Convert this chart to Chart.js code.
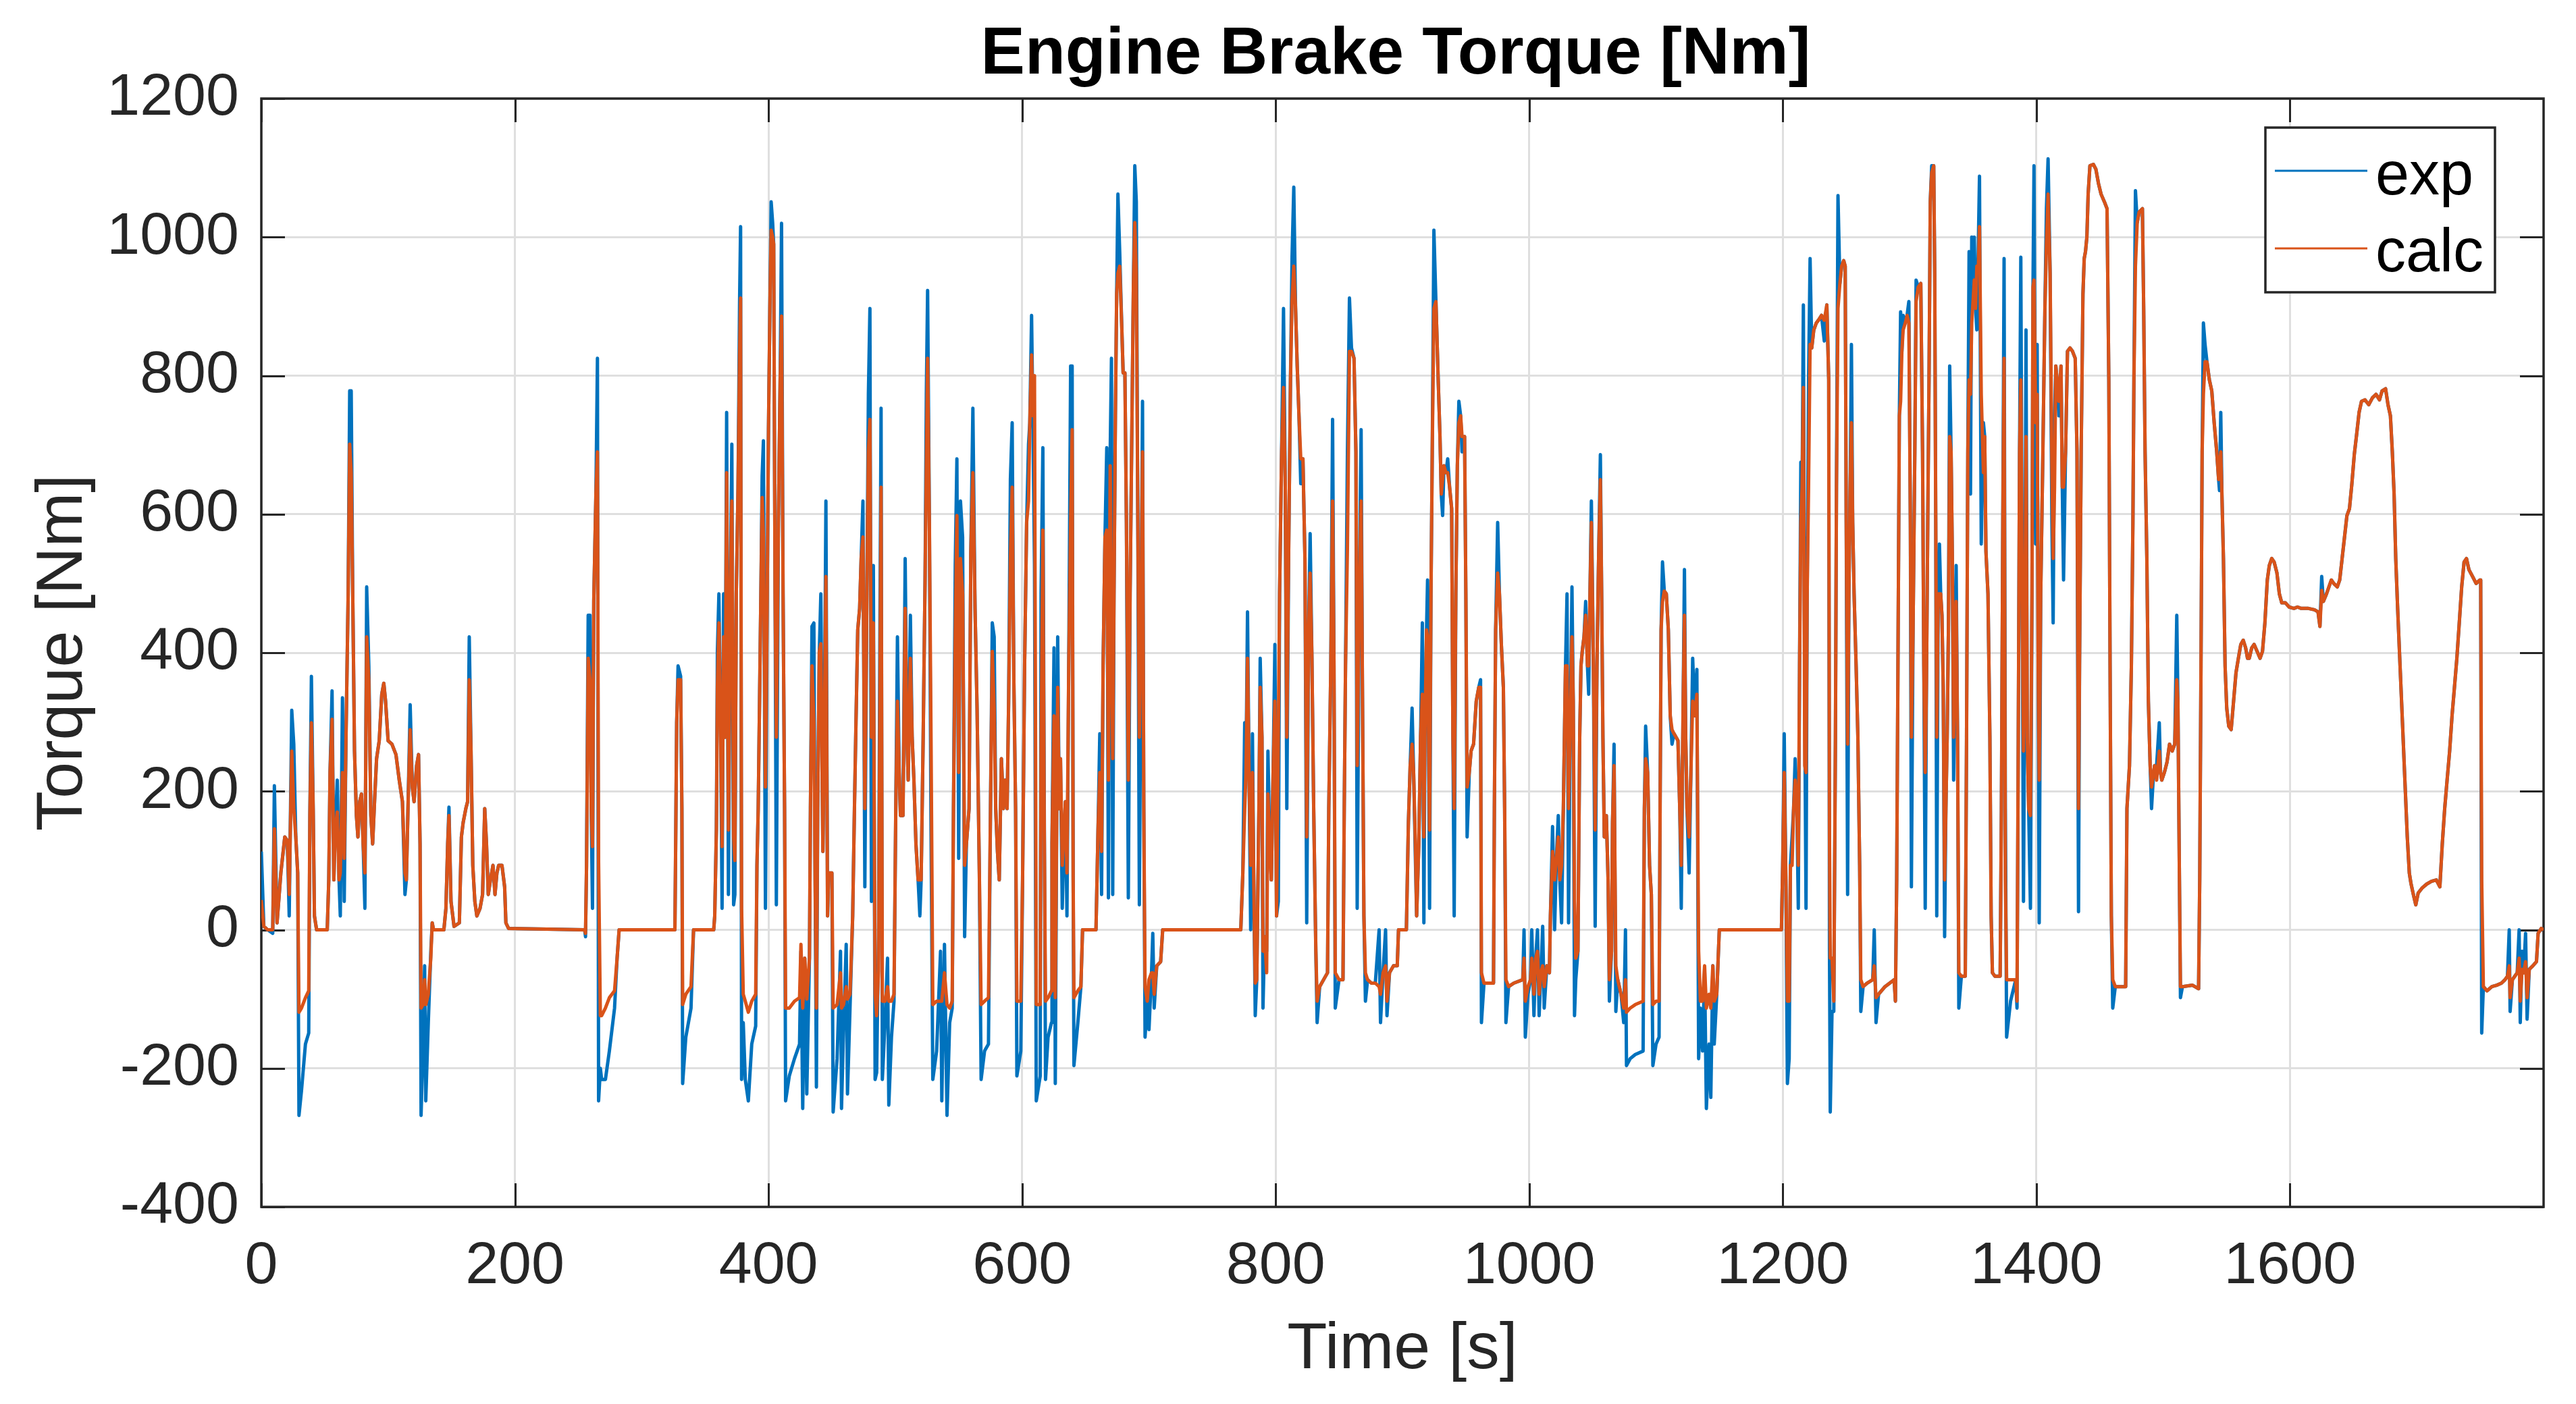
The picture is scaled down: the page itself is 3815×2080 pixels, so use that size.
<!DOCTYPE html>
<html>
<head>
<meta charset="utf-8">
<title>Engine Brake Torque</title>
<script src="https://cdn.jsdelivr.net/npm/chart.js@4.4.0/dist/chart.umd.min.js"></script>
<style>
  html, body { margin: 0; padding: 0; background: #ffffff; }
  canvas { display: block; }
</style>
</head>
<body>
<canvas id="torqueChart" width="3815" height="2080"></canvas>
<script>
// time base [s] shared by both series
const timeS = [
  0, 2, 5, 9, 10.3, 12.4, 15.4, 18.5, 20.5, 22,
  24, 25.6, 27.2, 28.7, 29.7, 31.7, 34.8, 37.4, 38.3, 39.5,
  40.9, 41.9, 43.6, 52, 53.2, 54.2, 55.8, 57.2, 58.3, 59.9,
  61.3, 62.3, 64, 65.4, 66.8, 68.5, 69.7, 70.9, 72.1, 73.5,
  75, 76.2, 77.6, 79, 80.3, 81.7, 83.1, 84.8, 86.4, 87.8,
  89.3, 90.9, 93, 95, 96.6, 98, 100, 103, 106.2, 108.8,
  111.3, 113.3, 114.4, 115.8, 117.4, 119.1, 120.5, 122.5, 124, 125.2,
  126, 127.6, 128.8, 129.7, 131.7, 133.7, 134.8, 135.8, 144, 145.6,
  147, 148, 149.6, 152, 156.2, 157.8, 159.2, 161.3, 162.7, 164,
  165.4, 166.8, 168.4, 170, 172.5, 174.5, 176.2, 177.6, 179, 180.7,
  182.7, 184.3, 185.8, 187.2, 189.8, 191.9, 192.9, 195, 255, 255.7,
  256.5, 257.8, 259.2, 260.2, 261.2, 262.2, 263.9, 265.1, 266, 267.4,
  268.4, 271.4, 274.5, 278.6, 280.6, 282.2, 326.2, 326.6, 327.6, 328.7,
  330.7, 331.7, 332.3, 334.8, 338.9, 340.9, 356.8, 357.6, 358.9, 359.7,
  360.9, 362.3, 363.4, 364.6, 365.8, 367, 368.4, 369.9, 371.1, 372.5,
  373.5, 374.6, 376, 377.2, 378, 378.8, 380.1, 381.7, 384.1, 386.8,
  389.9, 390.9, 391.9, 394, 395, 396, 397.6, 399, 400, 401.1,
  402.1, 403.3, 404.1, 405.2, 406.2, 407.8, 409.2, 410.3, 411.5, 412.7,
  413.5, 416.4, 420.5, 424.5, 425.6, 427, 428.6, 430.2, 432.3, 433.1,
  434.3, 435.8, 436.8, 437.8, 438.8, 440.1, 441.3, 442.9, 444.1, 445.3,
  446.6, 447.4, 450, 451, 454.1, 456.8, 457.6, 459.2, 461.3, 462.3,
  464.3, 466.4, 467.8, 469, 470.4, 471.9, 473.1, 474.5, 476, 477.6,
  478.8, 480, 481.2, 482.7, 484.1, 485.3, 486.8, 487.8, 488.8, 489.8,
  491.9, 493.9, 494.9, 497, 499, 500.4, 501.7, 503.1, 504.1, 506.1,
  507.8, 509.2, 510.2, 511.9, 513.3, 514.7, 516.3, 518, 519.4, 520.4,
  522, 523.5, 524.5, 525.5, 526.9, 528.2, 529.6, 532.6, 535.7, 536.7,
  538.8, 540.8, 542.9, 544.9, 545.9, 547.3, 548.6, 550, 551.4, 553.1,
  554.7, 556.1, 558.2, 559.6, 561.2, 562.9, 564.5, 566.3, 567.7, 570.4,
  573.5, 575.1, 576.5, 578, 579.2, 580.6, 582, 583.7, 585.3, 586.7,
  588.2, 589.4, 590.8, 592.2, 593.5, 594.9, 595.9, 599, 600.4, 602,
  603.6, 605.1, 606.1, 607.5, 608.5, 609.8, 611.2, 614.3, 615, 616.4,
  617.5, 618.5, 620.5, 623.2, 623.6, 625.2, 626.2, 628.1, 629.3, 630.3,
  631.7, 633.4, 634.2, 635.4, 636.8, 638.3, 639.5, 640.3, 640.9, 644,
  646.4, 647.7, 658.3, 659.9, 661.3, 662.7, 663.9, 665.4, 666.8, 668.1,
  669.5, 670.5, 671.5, 672.5, 673.6, 674.6, 675.6, 677, 678.7, 679.7,
  681.1, 682.3, 683.8, 685.2, 686.4, 687.8, 688.9, 690.1, 691.3, 692.5,
  694, 695, 696, 697, 698.7, 700.1, 702.1, 703.1, 704.2, 706.2,
  709.3, 710.9, 772.5, 774.1, 775.6, 776.6, 777.8, 779, 780.3, 781.7,
  782.7, 783.9, 785.1, 786.8, 787.8, 789.2, 790, 791.3, 792.9, 793.9,
  795.3, 796.6, 798, 799.4, 800.7, 802.1, 803.1, 804.7, 806.2, 807.6,
  808.8, 810.2, 811.7, 812.9, 814.3, 815.7, 817, 818.4, 819.8, 821.5,
  823.1, 824.5, 826, 827.2, 828.6, 830, 831.7, 832.7, 834.7, 837.8,
  840.9, 841.9, 843.5, 844.9, 846, 847, 850, 853.1, 854.1, 855.1,
  856.6, 858.2, 859.8, 861.8, 863.3, 864.3, 865.9, 867.4, 868.4, 869.6,
  870.8, 872.5, 875.5, 878.6, 881.6, 882.7, 884.7, 886.7, 887.8, 889.8,
  892.9, 895.9, 896.9, 903.1, 904.7, 906.1, 907.6, 908.8, 910.2, 911.2,
  912.9, 914.3, 915.7, 916.9, 917.7, 919, 919.8, 921.4, 922.5, 923.5,
  924.8, 926.4, 928.2, 929.6, 930.6, 931.7, 932.7, 934.3, 935.7, 937.2,
  938.8, 939.8, 940.8, 942.1, 943.3, 944.5, 945.9, 947, 949, 950,
  951, 952.7, 954.1, 956.1, 958.2, 960.2, 961.6, 962.3, 964.3, 971.8,
  972.5, 973.5, 975.1, 976.5, 978, 979.6, 980.6, 981.6, 983.7, 987.8,
  994.9, 995.9, 996.9, 999, 1001, 1002, 1003.7, 1005.1, 1006.5, 1007.8,
  1009.2, 1010.6, 1011.8, 1013.9, 1015.9, 1016.7, 1018.4, 1020, 1021.4, 1022.9,
  1024.1, 1025.5, 1026.9, 1028.6, 1029.8, 1031, 1032.2, 1033.7, 1034.7, 1035.7,
  1036.7, 1038.4, 1039.8, 1040.8, 1041.8, 1043.2, 1044.5, 1045.9, 1046.9, 1047.9,
  1049, 1050.6, 1052, 1053.4, 1054.7, 1056.1, 1057.1, 1058.1, 1059.2, 1060.8,
  1062.2, 1063.2, 1064.9, 1065.7, 1066.9, 1068.3, 1069.8, 1072.4, 1074.5, 1075.9,
  1076.7, 1079.6, 1083.6, 1089.8, 1090.8, 1091.8, 1093.4, 1094.9, 1096.3, 1097.5,
  1100, 1102.4, 1103.2, 1104, 1105.1, 1106.5, 1108.1, 1109.7, 1111.2, 1112.6,
  1114.2, 1117.3, 1118.7, 1119.9, 1121.4, 1122.4, 1123.4, 1124.4, 1126.1, 1127.5,
  1128.9, 1130.6, 1132.2, 1133.6, 1135, 1136.7, 1138.3, 1139.7, 1141.8, 1143.2,
  1144.8, 1145.9, 1147.9, 1149.9, 1198.9, 1199.9, 1201.1, 1202.4, 1203.6, 1205,
  1206, 1207.3, 1208.5, 1209.7, 1211.1, 1212.2, 1213.2, 1214.2, 1215.2, 1216.2,
  1217.3, 1218.3, 1219.2, 1220.3, 1221.5, 1222.8, 1224.4, 1226.4, 1228.5, 1230.5,
  1232.7, 1234.7, 1236.2, 1236.8, 1237.4, 1238.8, 1240.2, 1241.5, 1242.3, 1243.5,
  1245, 1246.4, 1248, 1249.2, 1250, 1251.1, 1252.1, 1253.1, 1254.1, 1255.1,
  1256.2, 1257.8, 1259.2, 1260.6, 1261.5, 1263.3, 1266.4, 1270.9, 1272.1, 1273.5,
  1275.5, 1280.6, 1287.8, 1288.8, 1289.8, 1290.8, 1291.9, 1292.9, 1293.9, 1294.9,
  1296.6, 1298, 1299.4, 1300.6, 1301.4, 1302.7, 1304.1, 1305.1, 1306.8, 1308.8,
  1310.2, 1311.2, 1312.3, 1313.3, 1314.3, 1315.3, 1316.3, 1317.4, 1319, 1319.8,
  1320.6, 1321.4, 1322.5, 1323.5, 1324.5, 1325.5, 1326.5, 1327.6, 1328.6, 1329.6,
  1330.6, 1331.6, 1332.7, 1333.7, 1334.7, 1335.7, 1336.7, 1337.8, 1338.8, 1340.8,
  1343.9, 1344.9, 1345.9, 1346.9, 1348, 1349, 1350, 1351, 1352, 1353,
  1354.1, 1355.1, 1356.5, 1358.2, 1359.2, 1360.2, 1361.8, 1363.3, 1364.3, 1365.3,
  1367.3, 1371.4, 1372.4, 1373.5, 1374.5, 1375.5, 1376.5, 1379.6, 1383.7, 1384.7,
  1385.7, 1386.7, 1387.7, 1388.8, 1389.8, 1390.8, 1391.8, 1392.8, 1393.9, 1395.3,
  1396.5, 1397.3, 1398.1, 1399.4, 1400.6, 1401.4, 1402.2, 1403.4, 1405.1, 1406.7,
  1407.9, 1409.2, 1410.8, 1412.2, 1413.2, 1414.3, 1415.3, 1416.3, 1417.7, 1419.4,
  1420.4, 1421.4, 1423, 1424.5, 1426.5, 1428.5, 1430.6, 1432, 1433.2, 1434,
  1435.3, 1436.7, 1437.7, 1438.7, 1439.8, 1440.8, 1442.2, 1444.9, 1446.9, 1449,
  1451, 1453.6, 1455.7, 1457.1, 1458.1, 1459.1, 1460.2, 1462.2, 1470.4, 1471.4,
  1473.4, 1474.9, 1476.1, 1476.9, 1478.1, 1479.5, 1481, 1483.6, 1484.6, 1485.7,
  1487.1, 1488.3, 1489.7, 1490.8, 1492.4, 1493.2, 1494.8, 1496.9, 1497.9, 1498.9,
  1500.9, 1503, 1505, 1507.1, 1509.1, 1510.7, 1511.6, 1512.8, 1513.6, 1515.2,
  1523.1, 1527.9, 1528.8, 1529.8, 1530.7, 1531.7, 1533, 1534.5, 1536.4, 1538.3,
  1540.2, 1542.2, 1543.7, 1544.4, 1545.4, 1546.3, 1547.5, 1548.8, 1550.1, 1551.7,
  1553.6, 1555.5, 1557.4, 1559.3, 1561.2, 1563.1, 1565, 1566.5, 1567.9, 1569.8,
  1571.7, 1573.6, 1576.4, 1578.3, 1580.2, 1582.1, 1583.7, 1585.6, 1587.5, 1589.7,
  1591.6, 1593.5, 1596.4, 1599.3, 1603.1, 1605.9, 1608.8, 1614.5, 1619.3, 1622.1,
  1623.6, 1625, 1626.3, 1628.8, 1630.7, 1632.6, 1634.5, 1637.3, 1639.2, 1641.1,
  1643, 1644.9, 1646.9, 1648.8, 1650.7, 1652.6, 1654.5, 1656.4, 1659.2, 1662.1,
  1665, 1667.8, 1670.6, 1672.6, 1675.4, 1677.3, 1679.2, 1680.7, 1682.1, 1683.4,
  1684.9, 1686.8, 1688.7, 1690.6, 1692.5, 1694.1, 1695.4, 1697.3, 1699.2, 1701.1,
  1704, 1707.8, 1711.6, 1715.4, 1718.2, 1720.1, 1722, 1723.9, 1725.9, 1727.8,
  1729.7, 1731.6, 1733.5, 1735.4, 1737.3, 1739.2, 1741.1, 1744, 1746.8, 1749.7,
  1750.4, 1751.2, 1752.5, 1755.4, 1759.2, 1763, 1766.8, 1769.6, 1771.5, 1772.9,
  1773.6, 1775.4, 1777.3, 1779.2, 1780.7, 1781.6, 1783, 1784.3, 1785.8, 1787,
  1788.7, 1791.5, 1794.4, 1795.7, 1798.2, 1800
];

// measured torque [Nm]
const expTorque = [
  113, 5, 0, -5, 208, 10, 82, 134, 129, 20,
  317, 268, 134, 82, -268, -232, -165, -149, 165, 366,
  175, 20, 0, 0, 72, 227, 345, 72, 144, 216,
  72, 20, 335, 41, 278, 485, 778, 778, 485, 258,
  165, 134, 185, 196, 124, 31, 495, 381, 165, 124,
  185, 247, 273, 340, 356, 330, 273, 268, 253, 216,
  185, 51, 72, 185, 325, 206, 185, 237, 253, 124,
  -268, -165, -52, -247, -134, -31, 10, 0, 0, 31,
  124, 177, 41, 5, 10, 134, 155, 175, 185, 423,
  258, 93, 41, 20, 31, 51, 175, 124, 51, 72,
  93, 51, 82, 93, 93, 62, 10, 2, 0, -10,
  93, 454, 454, 175, 31, 474, 629, 825, -247, -200,
  -216, -216, -175, -113, -41, 0, 0, 82, 299, 381,
  366, 175, -222, -155, -113, 0, 0, 20, 144, 402,
  485, 278, 31, 485, 278, 747, 51, 485, 701, 36,
  51, 485, 639, 907, 1015, -216, -134, -216, -247, -165,
  -139, 93, 175, 485, 655, 706, 31, 485, 722, 897,
  1051, 1020, 990, 485, 36, 588, 794, 1020, 485, 175,
  -247, -211, -186, -165, -31, -258, -41, -237, -41, 175,
  438, 443, 72, -227, 175, 402, 485, 113, 299, 619,
  20, 82, 82, -263, -186, -31, -258, -144, -21, -237,
  -113, 20, 175, 299, 433, 464, 536, 619, 62, 485,
  773, 897, 41, 526, -216, -206, -10, 402, 753, -216,
  -134, -41, -253, -155, -103, 175, 423, 227, 165, 165,
  536, 278, 216, 454, 278, 216, 124, 72, 20, 72,
  278, 505, 773, 923, 588, 144, -216, -175, -31, -247,
  -21, -268, -134, -113, 175, 526, 680, 103, 619, 567,
  -10, 124, 175, 546, 753, 464, 320, 82, -216, -175,
  -165, 175, 443, 423, 175, 113, 72, 247, 175, 216,
  175, 330, 650, 732, 361, 175, -211, -175, 72, 381,
  588, 701, 732, 887, 742, 526, -247, -211, 485, 696,
  175, -216, -155, -134, 124, 407, -222, 423, 175, 247,
  31, 155, 185, 20, 381, 814, 814, 72, -196, -134,
  -82, 0, 0, 144, 283, 51, 381, 567, 696, 46,
  690, 825, 51, 485, 742, 918, 1062, 979, 866, 804,
  804, 588, 46, 485, 690, 928, 1103, 1051, 588, 36,
  485, 763, 175, -155, -103, -144, -62, -5, -113, -52,
  -46, 0, 0, 82, 299, 227, 459, 227, 0, 283,
  72, -124, -72, 175, 392, 278, -113, -10, -31, 258,
  124, 72, 227, 412, 20, 41, 485, 690, 897, 639,
  175, 536, 794, 969, 1072, 897, 814, 742, 644, 680,
  536, 10, 433, 572, 392, 175, -31, -134, -82, -72,
  -62, 175, 381, 737, 381, -113, -72, -72, 175, 381,
  690, 912, 840, 825, 690, 31, 485, 722, 361, 20,
  -103, -72, -77, -77, 0, -134, -62, 0, -124, -62,
  -52, -52, 0, 0, 155, 237, 320, 227, 103, 20,
  124, 278, 443, 10, 278, 433, 505, 31, 485, 690,
  1010, 907, 794, 712, 629, 598, 670, 660, 680, 639,
  608, 278, 20, 485, 670, 763, 742, 690, 712, 485,
  134, 227, 258, 268, 330, 350, 361, -134, -77, -77,
  175, 433, 588, 485, 412, 350, 175, -134, -82, -77,
  -72, 0, -155, -93, -72, 0, -124, -41, 0, -124,
  -62, 5, -113, -52, -62, 20, 149, 0, 103, 165,
  72, 10, 175, 381, 485, 10, 278, 495, 330, -124,
  -72, -31, 278, 381, 402, 423, 474, 381, 340, 485,
  619, 381, 5, 381, 536, 686, 485, 278, 134, 165,
  72, -103, -31, 155, 268, -118, -72, -93, -134, 0,
  -196, -186, -180, -175, 175, 294, 227, 93, 51, -196,
  -165, -155, 175, 433, 531, 489, 485, 433, 309, 268,
  283, 273, 175, 31, 330, 520, 278, 175, 82, 227,
  392, 309, 376, -186, -113, -175, -57, -258, -165, -242,
  -52, -165, -93, 0, 0, 93, 283, 72, -222, -186,
  93, 134, 175, 247, 175, 31, 381, 675, 639, 902,
  309, 31, 485, 794, 969, 840, 866, 876, 881, 887,
  850, 902, 794, -31, -263, -118, -118, 278, 639, 1060,
  933, 958, 966, 958, 588, 51, 485, 639, 845, 588,
  485, 381, 278, 93, -118, -82, -77, -72, 0, -134,
  -93, -82, -72, -103, 72, 381, 742, 892, 835, 887,
  876, 887, 907, 588, 62, 433, 690, 938, 928, 933,
  690, 381, 31, 361, 588, 794, 1051, 1103, 1103, 948,
  588, 20, 485, 557, 485, 454, 350, -10, 175, 278,
  433, 814, 690, 536, 216, 381, 526, 278, -113, -67,
  -67, 278, 690, 979, 629, 1000, 907, 1000, 897, 866,
  979, 1088, 557, 732, 712, 546, 485, 278, 20, -62,
  -67, -67, 175, 588, 969, 175, -155, -103, -72, -113,
  278, 690, 971, 485, 41, 381, 866, 278, 175, 31,
  485, 928, 1103, 557, 845, 381, 10, 485, 690, 897,
  1041, 1113, 948, 588, 443, 742, 814, 794, 742, 814,
  639, 505, 690, 835, 840, 835, 825, 690, 26, 381,
  690, 918, 969, 979, 1000, 1062, 1103, 1105, 1098, 1077,
  1062, 1051, 1041, 794, 381, 20, -113, -82, -82, 175,
  237, 381, 588, 794, 1067, 1021, 1036, 1041, 897, 690,
  536, 330, 237, 175, 227, 237, 237, 299, 227, 216,
  227, 242, 268, 258, 268, 454, 330, 72, -98, -82,
  -80, -85, 72, 381, 690, 876, 845, 820, 794, 778,
  732, 690, 650, 634, 747, 629, 536, 381, 320, 294,
  289, 330, 371, 392, 412, 418, 407, 392, 392, 407,
  412, 404, 392, 402, 443, 505, 526, 536, 531, 515,
  485, 472, 472, 466, 464, 466, 464, 464, 462, 459,
  438, 510, 474, 485, 495, 505, 500, 495, 505, 536,
  567, 598, 608, 644, 686, 716, 747, 763, 765, 758,
  768, 773, 765, 778, 781, 758, 742, 690, 629, 536,
  464, 381, 299, 216, 134, 82, 67, 51, 36, 53,
  60, 66, 70, 72, 62, 124, 175, 216, 258, 309,
  350, 392, 443, 495, 531, 536, 520, 510, 500, 505,
  505, -149, -82, -88, -82, -80, -77, -72, -67, 0,
  -118, -72, -67, -62, 0, -134, -31, -62, -5, -129,
  -57, -52, -46, -5, 2, 0
];

// calculated torque [Nm]
const calcTorque = [
  43, 5, 0, 0, 146, 10, 82, 134, 129, 51,
  258, 175, 134, 82, -119, -113, -98, -88, 165, 299,
  175, 20, 0, 0, 72, 227, 304, 72, 144, 170,
  72, 82, 227, 103, 278, 485, 701, 660, 485, 258,
  165, 134, 185, 196, 124, 82, 423, 360, 165, 124,
  185, 247, 273, 340, 356, 330, 273, 268, 253, 216,
  185, 82, 72, 185, 289, 206, 185, 237, 253, 124,
  -113, -108, -72, -108, -93, -40, 10, 0, 0, 31,
  124, 165, 41, 5, 10, 134, 155, 175, 185, 361,
  258, 93, 41, 20, 31, 51, 175, 124, 51, 72,
  93, 51, 82, 93, 93, 62, 10, 2, 0, -5,
  93, 392, 361, 175, 120, 474, 629, 690, 100, -124,
  -124, -113, -98, -88, -41, 0, 0, 82, 299, 361,
  361, 175, -108, -93, -82, 0, 0, 20, 144, 350,
  443, 278, 120, 423, 278, 660, 144, 485, 619, 134,
  100, 485, 639, 830, 912, 31, -93, -103, -119, -103,
  -93, 93, 175, 485, 624, 567, 206, 485, 722, 897,
  1010, 1000, 990, 485, 278, 588, 794, 886, 485, 175,
  -113, -113, -103, -98, -21, -113, -41, -100, -41, 175,
  381, 299, 72, -113, 175, 402, 413, 113, 299, 510,
  20, 82, 82, -113, -108, -62, -113, -108, -82, -100,
  -93, 20, 175, 299, 433, 464, 536, 567, 175, 485,
  690, 737, 278, 443, -93, -124, -60, 300, 639, -103,
  -103, -82, -103, -103, -93, 175, 330, 227, 165, 165,
  464, 278, 216, 392, 278, 216, 124, 72, 72, 72,
  278, 505, 670, 825, 588, 278, -108, -103, -103, -103,
  -62, -108, -113, -103, 175, 423, 598, 227, 536, 485,
  93, 124, 175, 546, 660, 464, 320, 82, -108, -103,
  -98, 175, 402, 320, 175, 113, 72, 247, 175, 216,
  175, 330, 536, 639, 361, 175, -103, -103, 72, 381,
  588, 619, 732, 830, 742, 800, -108, -108, 258, 577,
  144, -103, -98, -88, 124, 309, -98, 350, 175, 247,
  93, 155, 185, 82, 381, 588, 722, 72, -98, -88,
  -82, 0, 0, 144, 227, 113, 381, 567, 577, 216,
  670, 454, 247, 485, 742, 918, 948, 958, 866, 804,
  804, 588, 216, 485, 690, 928, 1021, 948, 588, 278,
  485, 690, 175, -82, -103, -72, -62, -62, -93, -52,
  -46, 0, 0, 82, 175, 227, 392, 227, 93, 227,
  72, -77, -72, 175, 350, 278, -31, -10, -62, 196,
  124, 72, 227, 330, 20, 278, 485, 690, 783, 639,
  278, 536, 794, 907, 958, 897, 814, 742, 680, 680,
  536, 134, 433, 515, 392, 175, -31, -103, -82, -72,
  -62, 175, 381, 619, 381, -62, -72, -72, 175, 381,
  550, 835, 835, 825, 690, 237, 485, 619, 361, 20,
  -62, -72, -77, -77, -82, -93, -62, -52, -103, -62,
  -52, -52, 0, 0, 155, 237, 268, 227, 124, 20,
  124, 278, 340, 134, 278, 433, 423, 144, 485, 690,
  897, 907, 794, 712, 629, 650, 670, 660, 660, 639,
  608, 278, 175, 485, 670, 732, 742, 712, 712, 485,
  206, 227, 258, 268, 330, 350, 350, -62, -77, -77,
  175, 433, 515, 485, 412, 350, 175, -72, -82, -77,
  -72, -41, -103, -82, -72, -41, -93, -41, -31, -93,
  -62, -52, -82, -52, -62, 20, 113, 72, 103, 134,
  72, 93, 175, 381, 381, 175, 278, 423, 330, 41,
  -41, -31, 278, 381, 402, 423, 454, 381, 381, 485,
  588, 381, 144, 381, 536, 650, 485, 278, 134, 165,
  72, -72, -31, 155, 237, -52, -72, -93, -113, -72,
  -119, -113, -108, -103, 175, 247, 227, 93, 51, -108,
  -103, -103, 175, 433, 474, 489, 485, 433, 309, 289,
  283, 273, 175, 93, 330, 454, 278, 175, 134, 227,
  330, 309, 340, -31, -103, -103, -52, -113, -93, -113,
  -52, -103, -93, 0, 0, 93, 227, 72, -103, -103,
  93, 93, 175, 216, 175, 93, 381, 588, 639, 783,
  237, 227, 485, 639, 845, 840, 866, 876, 881, 887,
  880, 902, 794, 134, -41, -41, -103, 278, 639, 897,
  933, 958, 966, 958, 588, 268, 485, 639, 732, 588,
  485, 381, 278, 93, -72, -82, -77, -72, -52, -98,
  -93, -82, -72, -103, 72, 381, 742, 763, 835, 866,
  876, 887, 876, 588, 278, 433, 690, 907, 928, 933,
  690, 381, 227, 361, 588, 794, 1051, 1093, 1103, 948,
  588, 278, 485, 485, 485, 454, 350, 72, 175, 278,
  433, 712, 690, 536, 278, 381, 474, 278, -62, -67,
  -67, 278, 690, 794, 773, 876, 907, 938, 897, 958,
  950, 1015, 773, 660, 712, 546, 485, 278, 20, -62,
  -67, -67, 175, 588, 825, 72, -72, -72, -72, -103,
  278, 690, 794, 485, 258, 381, 712, 278, 175, 165,
  485, 928, 938, 732, 773, 381, 216, 485, 690, 897,
  989, 1062, 948, 670, 536, 639, 814, 794, 763, 814,
  639, 639, 690, 835, 840, 835, 825, 690, 175, 381,
  690, 918, 969, 979, 1000, 1062, 1103, 1105, 1098, 1077,
  1062, 1051, 1041, 794, 381, 20, -72, -82, -82, 175,
  237, 381, 588, 794, 958, 1021, 1036, 1041, 897, 690,
  536, 330, 237, 206, 227, 237, 216, 258, 227, 216,
  227, 242, 268, 258, 268, 361, 330, 72, -82, -82,
  -80, -85, 72, 381, 690, 773, 820, 820, 794, 778,
  732, 690, 650, 670, 690, 629, 536, 381, 320, 294,
  289, 330, 371, 392, 412, 418, 407, 392, 392, 407,
  412, 404, 392, 402, 443, 505, 526, 536, 531, 515,
  485, 472, 472, 466, 464, 466, 464, 464, 462, 459,
  438, 490, 474, 485, 495, 505, 500, 495, 505, 536,
  567, 598, 608, 644, 686, 716, 747, 763, 765, 758,
  768, 773, 765, 778, 781, 758, 742, 690, 629, 536,
  464, 381, 299, 216, 134, 82, 67, 51, 36, 53,
  60, 66, 70, 72, 62, 124, 175, 216, 258, 309,
  350, 392, 443, 495, 531, 536, 520, 510, 500, 505,
  505, 72, -82, -88, -82, -80, -77, -72, -67, -52,
  -98, -72, -67, -62, -41, -103, -57, -62, -46, -98,
  -57, -52, -46, -5, 2, 0
];

const seriesNames = ["exp", "calc"];
const xTicks = [0, 200, 400, 600, 800, 1000, 1200, 1400, 1600];
const yTicks = [-400, -200, 0, 200, 400, 600, 800, 1000, 1200];

const FONT = "'Liberation Sans', Arial, Helvetica, sans-serif";
const AXIS_COLOR = "#262626";
const BLUE = "#0072BD";
const ORANGE = "#D95319";

if (expTorque.length !== timeS.length || calcTorque.length !== timeS.length) {
  console.warn("length mismatch", timeS.length, expTorque.length, calcTorque.length);
}

const toPoints = (values) => timeS.map((t, i) => ({ x: t, y: values[i] }));

// axes box and inward ticks, under the data like matlab does it
const axesBox = {
  id: "axesBox",
  beforeDatasetsDraw(chart) {
    const { ctx, chartArea: a, scales } = chart;
    const len = 35;
    ctx.save();
    ctx.strokeStyle = AXIS_COLOR;
    ctx.lineWidth = 3;
    ctx.beginPath();
    xTicks.forEach((v) => {
      const px = Math.round(scales.x.getPixelForValue(v)) + 0.5;
      ctx.moveTo(px, a.bottom);
      ctx.lineTo(px, a.bottom - len);
      ctx.moveTo(px, a.top);
      ctx.lineTo(px, a.top + len);
    });
    yTicks.forEach((v) => {
      const py = Math.round(scales.y.getPixelForValue(v)) + 0.5;
      ctx.moveTo(a.left, py);
      ctx.lineTo(a.left + len, py);
      ctx.moveTo(a.right, py);
      ctx.lineTo(a.right - len, py);
    });
    ctx.stroke();
    ctx.lineWidth = 3.5;
    ctx.strokeRect(a.left, a.top, a.right - a.left, a.bottom - a.top);
    ctx.restore();
  },
};

// title centred over the axes, plus the boxed legend in the top right
const titleAndLegend = {
  id: "titleAndLegend",
  afterDraw(chart) {
    const { ctx, chartArea: a } = chart;
    ctx.save();
    ctx.fillStyle = "#000000";
    ctx.font = "bold 98px " + FONT;
    ctx.textAlign = "center";
    ctx.textBaseline = "alphabetic";
    ctx.fillText("Engine Brake Torque [Nm]", (a.left + a.right) / 2 - 10, 109);

    const bx = a.right - 412, by = a.top + 43, bw = 340, bh = 244;
    ctx.fillStyle = "#ffffff";
    ctx.fillRect(bx, by, bw, bh);
    ctx.strokeStyle = AXIS_COLOR;
    ctx.lineWidth = 3.5;
    ctx.strokeRect(bx, by, bw, bh);

    const colors = [BLUE, ORANGE];
    const lineY = [by + 64, by + 179];
    const textY = [by + 99, by + 213];
    ctx.font = "90px " + FONT;
    ctx.textAlign = "left";
    seriesNames.forEach((name, i) => {
      ctx.strokeStyle = colors[i];
      ctx.lineWidth = 3;
      ctx.beginPath();
      ctx.moveTo(bx + 14, lineY[i]);
      ctx.lineTo(bx + 151, lineY[i]);
      ctx.stroke();
      ctx.fillStyle = "#000000";
      ctx.fillText(name, bx + 163, textY[i]);
    });
    ctx.restore();
  },
};

const plainLabel = (value) => String(value);

const chartConfig = {
  type: "line",
  data: {
    datasets: [
      {
        label: seriesNames[0],
        data: toPoints(expTorque),
        borderColor: BLUE,
        borderWidth: 5,
        order: 2,
      },
      {
        label: seriesNames[1],
        data: toPoints(calcTorque),
        borderColor: ORANGE,
        borderWidth: 5,
        order: 1,
      },
    ],
  },
  options: {
    responsive: false,
    animation: false,
    devicePixelRatio: 1,
    parsing: false,
    normalized: true,
    elements: {
      point: { radius: 0, hoverRadius: 0 },
      line: { tension: 0, borderJoinStyle: "round", fill: false },
    },
    layout: { padding: { top: 146, right: 48, left: 0, bottom: 0 } },
    plugins: {
      legend: { display: false },
      title: { display: false },
      tooltip: { enabled: false },
    },
    scales: {
      x: {
        type: "linear",
        min: 0,
        max: 1800,
        afterBuildTicks: (scale) => {
          scale.ticks = xTicks.map((v) => ({ value: v }));
        },
        afterFit: (scale) => {
          scale.height = 292;
        },
        grid: { color: "#dfdfdf", lineWidth: 3, drawTicks: false },
        border: { display: false },
        ticks: {
          padding: 36,
          maxRotation: 0,
          color: AXIS_COLOR,
          font: { family: FONT, size: 88 },
          callback: plainLabel,
        },
        title: {
          display: true,
          text: "Time [s]",
          color: AXIS_COLOR,
          font: { family: FONT, size: 97 },
          padding: { top: 0, bottom: 22 },
        },
      },
      y: {
        type: "linear",
        min: -400,
        max: 1200,
        afterBuildTicks: (scale) => {
          scale.ticks = yTicks.map((v) => ({ value: v }));
        },
        afterFit: (scale) => {
          scale.width = 387;
        },
        grid: { color: "#dfdfdf", lineWidth: 3, drawTicks: false },
        border: { display: false },
        ticks: {
          padding: 33,
          color: AXIS_COLOR,
          font: { family: FONT, size: 88 },
          callback: plainLabel,
        },
        title: {
          display: true,
          text: "Torque [Nm]",
          color: AXIS_COLOR,
          font: { family: FONT, size: 97 },
          padding: { top: 36, bottom: 0 },
        },
      },
    },
  },
  plugins: [axesBox, titleAndLegend],
};

new Chart(document.getElementById("torqueChart"), chartConfig);
</script>
</body>
</html>
